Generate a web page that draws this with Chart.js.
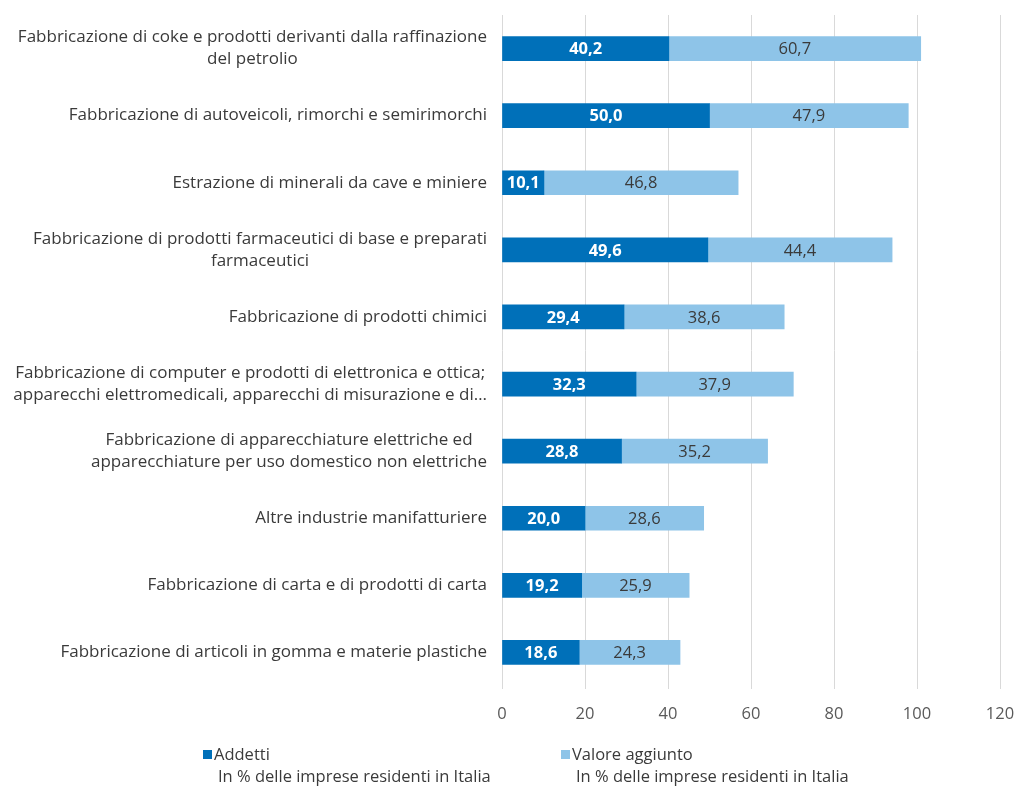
<!DOCTYPE html>
<html lang="it">
<head>
<meta charset="utf-8">
<title>Addetti e valore aggiunto per settore</title>
<script src="https://cdn.jsdelivr.net/npm/chart.js@4.4.1/dist/chart.umd.min.js"></script>
<style>
  html, body { margin: 0; padding: 0; background: #ffffff; }
  #wrap { position: relative; width: 1019px; height: 787px; }
</style>
</head>
<body>
<div id="wrap"><canvas id="chart"></canvas></div>
<script>
// Settori (etichette su più righe dove serve)
const settori = [
    ['Fabbricazione di coke e prodotti derivanti dalla raffinazione', 'del petrolio'],
    ['Fabbricazione di autoveicoli, rimorchi e semirimorchi'],
    ['Estrazione di minerali da cave e miniere'],
    ['Fabbricazione di prodotti farmaceutici di base e preparati', 'farmaceutici'],
    ['Fabbricazione di prodotti chimici'],
    ['Fabbricazione di computer e prodotti di elettronica e ottica;', 'apparecchi elettromedicali, apparecchi di misurazione e di\u2026'],
    ['Fabbricazione di apparecchiature elettriche ed', 'apparecchiature per uso domestico non elettriche'],
    ['Altre industrie manifatturiere'],
    ['Fabbricazione di carta e di prodotti di carta'],
    ['Fabbricazione di articoli in gomma e materie plastiche']
];

const addetti = [40.2, 50.0, 10.1, 49.6, 29.4, 32.3, 28.8, 20.0, 19.2, 18.6];
const valoreAggiunto = [60.7, 47.9, 46.8, 44.4, 38.6, 37.9, 35.2, 28.6, 25.9, 24.3];

const xTicks = [0, 20, 40, 60, 80, 100, 120];
const legendNote = 'In % delle imprese residenti in Italia';

const FONT = '"Open Sans", "Noto Sans", sans-serif';
const DARK = '#0070b9';
const LIGHT = '#8ec4e8';
const TEXT = '#3a3a3a';

const fmt = v => v.toFixed(1).replace('.', ',');

// Etichette delle categorie: blocco allineato a destra, righe centrate tra loro
const categoryLabels = {
    id: 'categoryLabels',
    afterDraw(chart) {
        const ctx = chart.ctx;
        const y = chart.scales.y;
        const right = chart.chartArea.left - 15;
        const lineH = 22;
        ctx.save();
        ctx.font = '17px ' + FONT;
        ctx.fillStyle = TEXT;
        ctx.textAlign = 'center';
        ctx.textBaseline = 'middle';
        settori.forEach((lines, i) => {
            const w = Math.max(...lines.map(l => ctx.measureText(l).width));
            const cx = right - w / 2;
            const cy = y.getPixelForValue(i);
            const top = cy - (lines.length - 1) * lineH / 2;
            lines.forEach((l, k) => ctx.fillText(l, cx, top + k * lineH));
        });
        ctx.restore();
    }
};

// Valori scritti al centro di ogni segmento
const valueLabels = {
    id: 'valueLabels',
    afterDatasetsDraw(chart) {
        const ctx = chart.ctx;
        ctx.save();
        ctx.textAlign = 'center';
        ctx.textBaseline = 'middle';
        chart.data.datasets.forEach((ds, di) => {
            const meta = chart.getDatasetMeta(di);
            ctx.font = (di === 0 ? 'bold ' : '') + '16.5px ' + FONT;
            ctx.fillStyle = di === 0 ? '#ffffff' : TEXT;
            meta.data.forEach((bar, i) => {
                const p = bar.getCenterPoint();
                ctx.fillText(fmt(ds.data[i]), p.x, p.y + 1);
            });
        });
        ctx.restore();
    }
};

// Legenda in basso con nota sotto ogni voce
const noteLegend = {
    id: 'noteLegend',
    afterDraw(chart) {
        const ctx = chart.ctx;
        const xs = [203, 561];
        ctx.save();
        ctx.font = '16.5px ' + FONT;
        ctx.textBaseline = 'middle';
        chart.data.datasets.forEach((ds, i) => {
            const x = xs[i];
            ctx.fillStyle = ds.backgroundColor;
            ctx.fillRect(x, 750, 9, 9);
            ctx.fillStyle = TEXT;
            ctx.textAlign = 'left';
            ctx.fillText(ds.label, x + 11, 755);
            ctx.fillText(legendNote, x + 15, 777);
        });
        ctx.restore();
    }
};

new Chart(document.getElementById('chart'), {
    type: 'bar',
    data: {
        labels: settori.map(l => l.join(' ')),
        datasets: [
            { label: 'Addetti', data: addetti, backgroundColor: DARK },
            { label: 'Valore aggiunto', data: valoreAggiunto, backgroundColor: LIGHT }
        ]
    },
    options: {
        indexAxis: 'y',
        responsive: true,
        maintainAspectRatio: false,
        animation: false,
        layout: { padding: { top: 15, right: 19, bottom: 61, left: 0 } },
        datasets: { bar: { barThickness: 24 } },
        scales: {
            x: {
                stacked: true,
                min: 0,
                max: 120,
                afterBuildTicks: s => { s.ticks = xTicks.map(v => ({ value: v })); },
                afterFit: s => {
                    s.height = 40;
                    s.paddingLeft = 0;
                    s.paddingRight = 0;
                },
                grid: { color: '#d9d9d9', tickLength: 3, tickColor: '#d9d9d9' },
                border: { display: false },
                ticks: { color: '#595959', font: { size: 16.5, family: FONT }, padding: 15 }
            },
            y: {
                stacked: true,
                afterFit: s => { s.width = 502; },
                grid: { display: false },
                border: { display: false },
                ticks: { display: false }
            }
        },
        plugins: {
            legend: { display: false },
            tooltip: { enabled: false }
        }
    },
    plugins: [categoryLabels, valueLabels, noteLegend]
});
</script>
</body>
</html>
